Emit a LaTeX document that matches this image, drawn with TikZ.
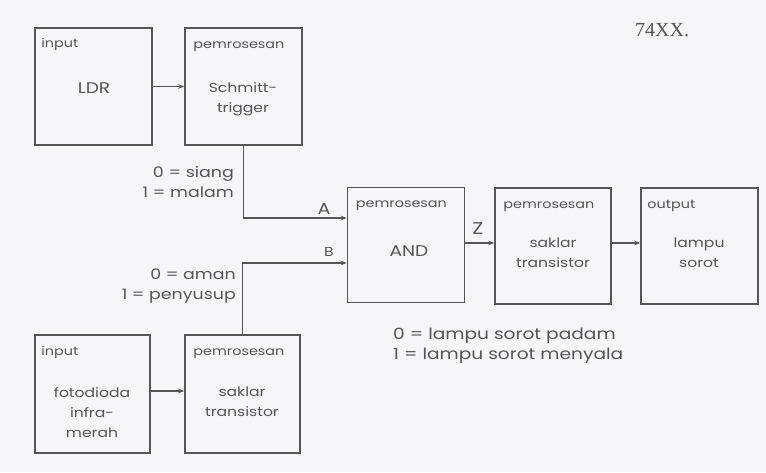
\documentclass[tikz,border=0pt]{standalone}
\usepackage{fontspec}
\setmainfont{Poppins}[FakeStretch=1.2]
\newfontfamily\serifft{Liberation Serif}
\usetikzlibrary{arrows.meta}
\definecolor{ink}{HTML}{55555A}
\definecolor{paper}{HTML}{F6F6F8}
\tikzset{
  blk/.style={draw=ink, line width=1.5pt, minimum width=#1, minimum height=117pt, inner sep=0pt},
  blk/.default=117pt,
  tag/.style={text=ink, font=\fontsize{12}{14}\selectfont, anchor=base west, inner sep=0pt},
  main/.style={text=ink, font=\fontsize{13}{20}\selectfont, align=center, inner sep=0pt},
  caps/.style={main, font=\fontsize{15.5}{20}\selectfont},
  note/.style={text=ink, font=\fontsize{14.5}{20}\selectfont, inner sep=0pt},
  arr/.style={draw=ink, line width=1.4pt, -{Stealth[length=6pt,width=4.5pt]}},
}
\begin{document}
\begin{tikzpicture}[x=1pt,y=-1pt]
\fill[paper] (0,0) rectangle (766,472);
\useasboundingbox (0,0) rectangle (766,472);
% boxes
\node[blk] (ldr) at (93.5,86.5) {};
\node[blk] (sch) at (243.5,86.5) {};
\node[blk, minimum height=115pt] (and) at (406,245) {};
\node[blk=116pt, minimum height=116pt] (sak) at (553,246) {};
\node[blk, minimum height=116pt] (out) at (699.5,246) {};
\node[blk=115pt, minimum height=118pt] (foto) at (92.5,394) {};
\node[blk=115pt, minimum height=118pt] (sak2) at (242.5,394) {};
% small tags
\node[tag] (t1) at ([xshift=7pt,yshift=-20pt]ldr.north west) {input};
\node[tag] (t2) at ([xshift=9pt,yshift=-21pt]sch.north west) {pemrosesan};
\node[tag] (t3) at ([xshift=9pt,yshift=-21pt]and.north west) {pemrosesan};
\node[tag] (t4) at ([xshift=9pt,yshift=-21pt]sak.north west) {pemrosesan};
\node[tag] (t5) at ([xshift=7pt,yshift=-21pt]out.north west) {output};
\node[tag] (t6) at ([xshift=7pt,yshift=-21pt]foto.north west) {input};
\node[tag] (t7) at ([xshift=9pt,yshift=-21pt]sak2.north west) {pemrosesan};
% main texts
\node[caps] (m1) at (94,88) {LDR};
\node[main] (m2) at (243,99) {Schmitt-\\trigger};
\node[caps] (m3) at (409,251) {AND};
\node[main] (m4) at (553,253) {saklar\\transistor};
\node[main] (m5) at (699,253) {lampu\\sorot};
\node[main] (m6) at (92,413) {fotodioda\\infra-\\merah};
\node[main] (m7) at (242,402) {saklar\\transistor};
% connectors
\draw[arr] (ldr.east) -- (sch.west);
\draw[arr] (foto.east |- 0,391) -- (sak2.west |- 0,391);
\draw[arr] (sch.south) |- ([yshift=27pt]and.west);
\draw[arr] (sak2.north) |- ([yshift=-18pt]and.west);
\draw[arr] (and.east |- 0,243) -- (sak.west |- 0,243);
\draw[arr] (sak.east |- 0,243) -- (out.west |- 0,243);
% connector labels
\node[note, font=\fontsize{16}{18}\selectfont] (la) at (324,209) {A};
\node[note, font=\fontsize{13}{14}\selectfont] (lb) at (329,252) {B};
\node[note, font=\fontsize{17}{18}\selectfont] (lz) at (478,229) {Z};
% legends
\node[note, align=right, anchor=east] (n1) at (234,182) {0 = siang\\1 = malam};
\node[note, align=right, anchor=east] (n2) at (236,286) {0 = aman\\1 = penyusup};
\node[note, font=\fontsize{15.5}{20}\selectfont, align=left, anchor=west] (n3) at (393,346) {0 = lampu sorot padam\\1 = lampu sorot menyala};
\node[text=ink, font=\serifft\fontsize{20}{22}\selectfont, anchor=west, inner sep=0pt] (xx) at (635,30) {74XX.};
\end{tikzpicture}
\end{document}
